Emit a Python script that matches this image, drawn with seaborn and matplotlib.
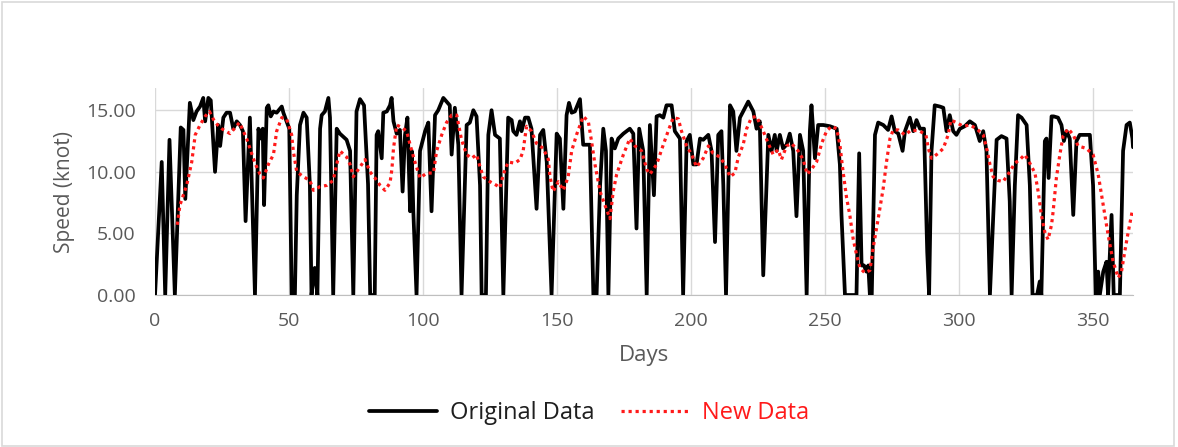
import numpy as np
import pandas as pd
import matplotlib
matplotlib.use("Agg")
import matplotlib.pyplot as plt
from matplotlib.lines import Line2D
from matplotlib.patches import Rectangle
import seaborn as sns

# ==================== data ====================
days_orig = [0, 2.5, 3.8, 5.4, 7.4, 9.6, 10.6, 11.3, 13, 14.3, 15.5, 16.8, 18, 18.7, 19.9, 20.8,
             22.4, 23.6, 24.3, 25.5, 26.7, 28, 29.2, 30.5, 31.7, 32.8, 33.8, 35.4, 37.3,
             38.6, 39.2, 40.2, 40.7, 41.7, 42.3, 43.2, 44.2, 45.4, 47.3, 47.9, 49.1, 50.1, 51,
             52.2, 52.9, 54.1, 55.4, 56.6, 57.8, 58.4, 59.6, 60.6, 61.6, 62.2, 63.4, 64.7, 65.3,
             66.5, 67.8, 69, 71.5, 72.8, 74,
             75.2, 76.5, 78, 79.5, 80.3, 82, 82.7, 83.3, 84.6, 85.2, 86.5, 87.7, 88.3, 89, 90.2,
             91.4, 92.4, 93.3, 94.2, 95.2, 95.8, 96.4, 97.6, 98.9, 100.8, 102, 103.2, 104.5,
             105.7, 107.6, 108.8, 110, 110.7, 111.9, 113.2, 114.4, 116.3, 117.5, 118.8, 120,
             121.3, 121.9, 123.5, 124.4, 125.6, 126.9, 128.7, 130, 131.8, 133.1, 133.7, 134.9,
             136.2, 136.8, 138.1, 139.3, 140.5, 142.4, 143.7, 144.9, 146.2, 148,
             149.9, 151.1, 152.4, 153.6, 154.5, 155.5, 156.7, 158.6, 159.8, 161, 162.3, 163.6,
             164.8, 166.1, 167.3, 168.3, 169.2, 170.4, 171.6, 172.9, 174.8, 177.2, 178.5, 179.7,
             180.7, 182.2, 183.5, 184.7, 186.2,
             187.2, 188.4, 189.7, 190.9, 192.8, 194, 195.9, 197.1, 198.4, 199.6, 200.9, 202.1,
             203.4, 204.6, 206.5, 207.7, 209, 210.2, 211.4, 212.1, 213.1, 214.6, 215.8, 217,
             218.3, 219.5, 221.4, 223.3, 224.5, 225.7, 227, 228.9, 230.1, 231.3, 232, 233.2,
             234.4, 235.7, 236.9, 238.2, 239.4, 240.7, 241.9, 243.2, 244.4, 245, 246.3, 247.5,
             249.4, 251.9, 254.4, 255.6, 256.2, 257.5, 261.8,
             262.8, 263.7, 264.6, 265.5, 266.2, 266.8, 267.5, 268.7, 269.9, 271.8, 273.6, 274.9,
             276.1, 277.4, 279, 279.9, 281.7, 283, 284.2, 285.5, 287, 288.2, 288.9, 289.8, 291,
             292.9, 294.2, 295.4, 296.6,
             297.9, 299.1, 300.4, 302.2, 304.1, 306, 307.8, 309.1, 310.3, 311.6, 312.8, 314.1,
             315.9, 317.8, 319, 319.7, 320.9, 322.1, 323.4, 325.3, 326.5, 327.5, 329.2, 330.2,
             330.8, 332.1, 332.7, 333.5, 334.6, 335.4, 337, 338.3, 339.2, 340.2, 341.4, 342.7,
             343.9, 345.1, 346.9, 348.9, 350.1, 351.1, 352, 352.6, 353.9, 355.1, 355.7, 357,
             357.8, 360.1, 361.3, 362.6, 363.8, 364.8, 365]
speed_orig = [0, 10.8, 0, 12.6, 0, 13.6, 13.4, 7.8, 15.6, 14.2, 14.9, 15.3, 16.0, 14.1, 16.0, 15.8,
              10.0, 13.8, 12.1, 14.4, 14.8, 14.8, 13.5, 14.1, 13.8, 13.3, 6.0, 14.4, 0,
              13.5, 12.7, 13.5, 7.3, 15.2, 15.4, 14.5, 14.9, 14.8, 15.3, 14.8, 14.1, 13.5, 0,
              0, 8.1, 13.8, 14.8, 14.4, 8.9, 0, 2.2, 0, 13.5, 14.6, 14.9, 16.0, 14.4,
              0, 13.5, 13.1, 12.6, 11.7, 0,
              14.9, 15.9, 15.4, 9.0, 0, 0, 13.0, 13.3, 11.1, 14.8, 14.9, 15.4, 16.0, 14.1, 13.1,
              13.4, 8.4, 13.0, 14.4, 6.8, 11.7, 6.8, 0, 11.7, 13.3, 14.0, 6.8, 14.6,
              15.0, 16.0, 15.7, 15.4, 11.4, 15.2, 12.2, 0, 13.8, 14.0, 15.0, 14.5,
              8.9, 0, 0, 13.0, 15.0, 13.0, 12.7, 0, 14.4, 14.2, 13.3, 13.0,
              14.1, 13.3, 14.4, 14.4, 13.5, 7.0, 13.0, 13.4, 10.8, 0,
              13.1, 12.7, 7.0, 14.6, 15.6, 14.8, 14.9, 15.9, 12.2, 12.2, 12.2, 0,
              0, 8.9, 13.5, 11.7, 0, 12.7, 11.9, 12.7, 13.1, 13.5, 13.1, 5.4,
              13.5, 11.7, 0, 13.8, 8.1,
              14.5, 14.6, 14.4, 15.4, 15.4, 13.3, 12.7, 0, 12.5, 13.0, 10.6, 10.6,
              12.7, 12.6, 13.0, 11.7, 4.3, 13.0, 13.3, 8.9, 0, 15.4, 14.9, 11.7,
              14.4, 14.9, 15.7, 14.9, 13.5, 14.1, 1.6, 13.0, 11.7, 13.0, 11.7, 13.0,
              11.9, 12.2, 13.1, 11.7, 6.4, 13.0, 11.7, 0, 13.3, 15.4, 11.1, 13.8,
              13.8, 13.7, 13.5, 10.6, 6.5, 0, 0,
              11.5, 2.4, 2.4, 1.9, 2.4, 0, 0, 13.0, 14.0, 13.8, 13.4, 14.5,
              13.3, 13.1, 11.7, 13.3, 14.4, 13.3, 14.2, 13.5, 13.5, 3.5, 0, 11.7, 15.4,
              15.3, 15.2, 13.3, 14.6,
              13.3, 13.0, 13.5, 13.7, 14.1, 13.8, 12.5, 13.3, 11.7, 0, 6.2, 12.6,
              12.9, 12.7, 7.6, 0, 8.9, 14.6, 14.4, 13.8, 8.9, 0, 0, 1.1,
              0, 12.5, 12.7, 9.5, 14.5, 14.5, 14.4, 13.8, 12.5, 13.3, 12.7, 6.5,
              12.5, 13.0, 13.0, 13.0, 8.9, 0, 1.9, 0, 1.9, 2.7, 0, 6.5,
              0, 0, 11.7, 13.8, 14.0, 12.7, 12.0]

days_new = [8.3, 9.3, 11.8, 13.7, 15, 16.8, 18.7, 20.3, 22.4, 24.9, 28, 31.5, 34.2, 37.3,
            39.2, 40.4, 42.3, 44.2, 45.4, 47.3, 49.1, 51, 51.6, 52.9, 55.4, 57.8, 59.1, 61.6,
            64.1, 66.5, 67.8, 69, 71.5, 72.8, 74, 76.5, 78.4, 80.2, 82.1, 84, 85.8, 87.7, 88.4,
            89, 90.2, 92.1, 93.9, 95.2, 97, 98.9, 101.4, 103.9, 105.1, 107, 108.8, 110.7,
            112.6, 114.4, 116.3, 118.2, 120, 121.3, 122.5, 125, 127.5, 128.7, 130, 131.8,
            134.3, 136.2, 137.4, 138, 138.7, 140.5, 142.4, 144.9, 146.8, 147.4, 148.6, 150.5,
            152.4, 154.2, 155.5, 157.3, 159.8, 161.7, 162.9, 164.2, 166.1, 167.9, 169.8, 171,
            172.3, 174.8, 177.2, 179.1, 181.6, 183.5, 184.7, 187.2, 189.7, 191.5, 193.4, 195.3,
            196.5, 198.4, 200.3, 202.1, 204.6, 206.5, 208.3, 210.8, 212.7, 214.6, 216.4,
            217.7, 219.5, 220.8, 222.6, 224.5, 227, 228.9, 230.7, 232.6, 233.8, 235.7, 237.6,
            240, 241.9, 243.4, 245, 246.9, 248.8, 250.6, 252.5, 254.4, 255.6, 256.8, 258.1,
            259.3, 260.6, 261.8, 263.1, 264.9, 266.8, 268, 269.9, 271.8, 273, 274.3, 275.5,
            277.4, 279.9, 282.3, 285.5, 287.7, 288.6, 289.8, 292.3, 294.2, 296, 297, 299.1,
            301.6, 304.1, 306.6, 309.1, 310.6, 311.6, 312.8, 314.7, 316.5, 318.4, 320.9,
            322.8, 324.6, 326.5, 328.4, 329.6, 330.8, 332.1, 333.3, 334.6, 335.2, 336.4,
            337.7, 338.9, 340.8, 342.7, 344.5, 347.6, 350.1, 352, 353.9, 355.7, 357.6, 359.5,
            360.7, 361.9, 363.2, 364.8]
speed_new = [5.7, 7.3, 8.9, 10.8, 13.0, 13.8, 14.5, 14.9, 14.0, 13.5, 13.1, 14.0, 12.7, 10.7,
             9.8, 9.5, 10.6, 11.4, 13.3, 14.4, 14.3, 13.0, 11.7, 10.0, 9.6, 9.3, 8.5, 8.8,
             8.9, 9.3, 10.6, 11.7, 11.2, 10.6, 9.6, 10.4, 11.0, 10.0, 9.5, 8.9, 8.5, 9.1, 10.2,
             11.9, 13.8, 13.6, 13.3, 12.2, 10.8, 9.5, 9.9, 9.9, 11.7, 13.0, 14.0, 14.6,
             14.6, 12.6, 11.4, 11.1, 11.4, 10.4, 9.6, 9.2, 8.9, 8.7, 9.8, 10.8,
             10.7, 11.0, 11.7, 12.7, 13.7, 13.3, 12.3, 11.9, 11.0, 9.6, 8.4, 9.2,
             8.5, 9.6, 11.7, 13.0, 14.5, 14.1, 12.5, 10.6, 8.4, 7.3, 6.2, 8.4,
             9.8, 11.4, 12.7, 12.1, 11.7, 10.2, 9.8, 10.6, 12.2, 13.3, 14.4, 14.3,
             13.3, 12.1, 11.4, 10.4, 11.1, 12.1, 11.5, 11.2, 10.6, 9.6, 9.9,
             11.2, 12.2, 13.5, 14.4, 14.5, 13.3, 12.3, 11.4, 11.8, 11.0, 12.1, 12.3,
             11.7, 11.0, 9.8, 10.2, 10.8, 12.3, 13.3, 13.7, 13.5, 12.2, 10.0, 7.9,
             6.5, 4.5, 3.3, 2.2, 1.8, 2.0, 3.8, 6.2, 8.7, 10.8, 12.7, 13.4,
             13.4, 13.0, 13.4, 13.3, 13.0, 11.9, 11.1, 11.5, 11.9, 13.0, 14.2, 14.0,
             13.7, 13.8, 13.5, 13.0, 11.7, 10.6, 9.6, 9.3, 9.2, 9.8, 10.7,
             11.0, 11.4, 10.7, 9.9, 8.4, 6.5, 5.1, 4.5, 5.7, 6.8, 9.5,
             11.4, 12.9, 13.5, 13.0, 12.1, 11.9, 11.4, 9.8, 7.3, 4.9, 2.7, 1.4,
             1.9, 3.5, 5.1, 6.9]

df_orig = pd.DataFrame({'Days': days_orig, 'Speed': speed_orig})
df_new = pd.DataFrame({'Days': days_new, 'Speed': speed_new})

# ==================== style ====================
sns.set_style("white")
plt.rcParams['font.family'] = ['Open Sans', 'DejaVu Sans']

grey_txt = '#595959'
grid_c = '#d9d9d9'
red = '#ff1a1a'

fig = plt.figure(figsize=(11.78, 4.47), dpi=100)
ax = fig.add_axes([0.1316, 0.340, 0.8302, 0.463])

sns.lineplot(data=df_orig, x='Days', y='Speed', ax=ax, color='black',
             linewidth=2.7, estimator=None, sort=False, zorder=3)
sns.lineplot(data=df_new, x='Days', y='Speed', ax=ax, color=red,
             linewidth=2.3, linestyle=(0, (1, 1.2)), estimator=None, sort=False, zorder=4)

ax.set_xlim(0, 365)
ax.set_ylim(0, 16.8)
ax.set_xticks(np.arange(0, 351, 50))
ax.set_yticks([0, 5, 10, 15])
ax.set_yticklabels([f'{v:.2f}' for v in [0, 5, 10, 15]])
ax.tick_params(axis='both', length=0, labelsize=14, labelcolor=grey_txt)
ax.tick_params(axis='y', pad=14)
ax.tick_params(axis='x', pad=12)

ax.grid(True, color=grid_c, linewidth=1)
ax.set_axisbelow(True)
for s in ['top', 'right', 'left']:
    ax.spines[s].set_visible(False)
ax.spines['bottom'].set_color('#bfbfbf')

ax.set_xlabel('Days', fontsize=16, color=grey_txt, labelpad=11)
ax.set_ylabel('Speed (knot)', fontsize=15, color=grey_txt, labelpad=8)

# legend at bottom
handles = [Line2D([], [], color='black', linewidth=2.7),
           Line2D([], [], color=red, linewidth=2.3, linestyle=(0, (1, 1.2)))]
leg = fig.legend(handles, ['Original Data', 'New Data'], loc='center',
                 bbox_to_anchor=(0.5, 0.075), ncol=2, frameon=False,
                 fontsize=17, handlelength=2.9, columnspacing=1.1, handletextpad=0.55)
leg.get_texts()[0].set_color('#1f1f1f')
leg.get_texts()[1].set_color(red)

# chart border
fig.patches.append(Rectangle((0.002, 0.003), 0.995, 0.993, transform=fig.transFigure,
                             fill=False, edgecolor=grid_c, linewidth=1.2))

fig.savefig('out.png', dpi=100)
